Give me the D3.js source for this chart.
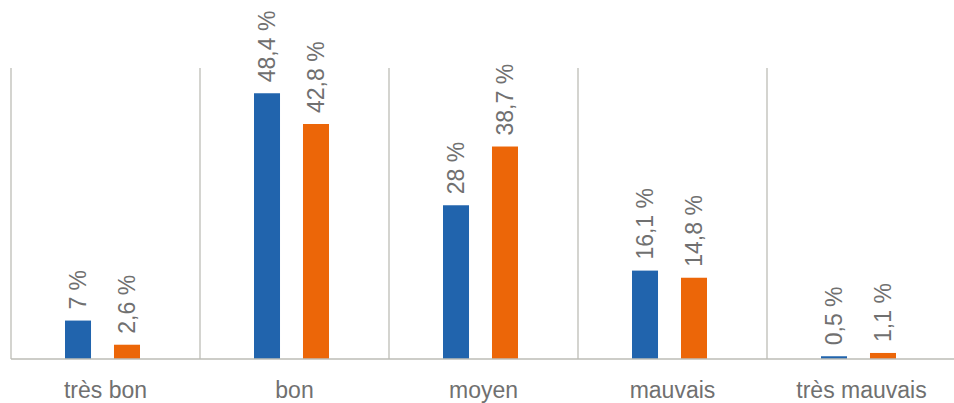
<!DOCTYPE html>
<html>
<head>
<meta charset="utf-8">
<script src="https://cdn.jsdelivr.net/npm/d3@7/dist/d3.min.js"></script>
<style>
  html, body { margin: 0; padding: 0; background: #fff; }
  svg { display: block; }
  text { font-family: "Liberation Sans", Arial, sans-serif; fill: #707070; }
</style>
</head>
<body>
<svg id="chart" width="954" height="403"></svg>
<script>
// Categories and the two series, in percent
const categories = ["très bon", "bon", "moyen", "mauvais", "très mauvais"];
const seriesNames = ["serie1", "serie2"];
const serie1 = [7, 48.4, 28, 16.1, 0.5];
const serie2 = [2.6, 42.8, 38.7, 14.8, 1.1];
const valueLabels1 = ["7 %", "48,4 %", "28 %", "16,1 %", "0,5 %"];
const valueLabels2 = ["2,6 %", "42,8 %", "38,7 %", "14,8 %", "1,1 %"];
const colors = ["#2164ad", "#ec6608"];

const svg = d3.select("#chart");
const baseY = 359, topY = 68;

const x = d3.scaleBand().domain(categories).range([11, 956]).padding(0);
const xInner = d3.scaleBand().domain(seriesNames).range([54, 129]).paddingInner(0.469).paddingOuter(0);
const y = d3.scaleLinear().domain([0, 53]).range([baseY, topY]);

const rows = categories.map((c, i) => ({
  cat: c,
  vals: [
    { s: seriesNames[0], v: serie1[i], label: valueLabels1[i], color: colors[0] },
    { s: seriesNames[1], v: serie2[i], label: valueLabels2[i], color: colors[1] }
  ]
}));

// Vertical separators between categories
const grid = svg.append("g").attr("stroke", "#bdbdb6").attr("stroke-width", 1.3);
categories.concat(["_end"]).forEach(c => {
  const gx = c === "_end" ? x.range()[1] : x(c);
  grid.append("line")
    .attr("x1", gx).attr("x2", gx)
    .attr("y1", topY).attr("y2", baseY);
});

// Bars and rotated value labels
const groups = svg.append("g").selectAll("g")
  .data(rows).join("g")
  .attr("transform", d => `translate(${x(d.cat)},0)`);

groups.selectAll("rect")
  .data(d => d.vals).join("rect")
  .attr("x", d => xInner(d.s))
  .attr("width", xInner.bandwidth())
  .attr("y", d => y(d.v))
  .attr("height", d => baseY - y(d.v))
  .attr("fill", d => d.color);

groups.selectAll("text.val")
  .data(d => d.vals).join("text")
  .attr("class", "val")
  .attr("transform", d => `translate(${xInner(d.s) + xInner.bandwidth() / 2 + 8},${y(d.v) - 11}) rotate(-90)`)
  .attr("font-size", 23)
  .text(d => d.label);

// Baseline
svg.append("line")
  .attr("x1", x.range()[0]).attr("x2", 954)
  .attr("y1", baseY).attr("y2", baseY)
  .attr("stroke", "#bdbdb6").attr("stroke-width", 1.3);

// Category labels
svg.append("g").selectAll("text")
  .data(categories).join("text")
  .attr("x", d => x(d) + x.bandwidth() / 2)
  .attr("y", 398)
  .attr("text-anchor", "middle")
  .attr("font-size", 23)
  .text(d => d);
</script>
</body>
</html>
